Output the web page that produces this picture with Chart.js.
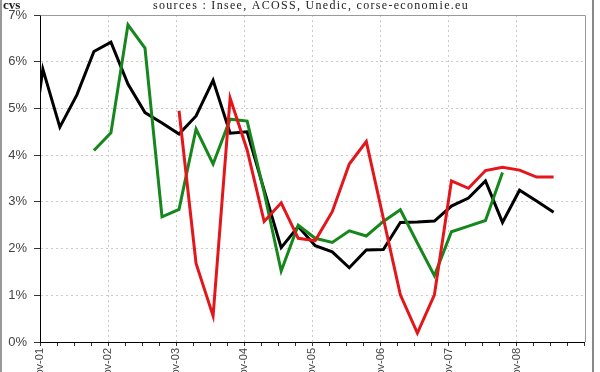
<!DOCTYPE html>
<html>
<head>
<meta charset="utf-8">
<script src="https://cdn.jsdelivr.net/npm/chart.js@4.4.0/dist/chart.umd.min.js"></script>
<style>
  html, body { margin: 0; padding: 0; background: #fff; overflow: hidden; }
</style>
</head>
<body>
<canvas id="chart" width="600" height="372"></canvas>
<script>
// labels des années (un tick par trimestre, label tous les 4)
const yearLabels = ['nov-01', 'nov-02', 'nov-03', 'nov-04', 'nov-05', 'nov-06', 'nov-07', 'nov-08']

// séries trimestrielles en %, chaque série commence à son propre trimestre
// (trimestre 0 = nov-01 ; le premier point noir est avant l'axe et coupé)
const blackStart = -1
const blackValues = [3.2, 5.84, 4.60, 5.29, 6.22, 6.42, 5.52, 4.91, 4.69, 4.45, 4.84, 5.60, 4.47, 4.50, 3.25, 2.02,
  2.47, 2.06, 1.93, 1.59, 1.97, 1.98, 2.56, 2.57, 2.59, 2.91, 3.08, 3.45, 2.56, 3.25, 3.02, 2.78]

const greenStart = 3
const greenValues = [4.10, 4.48, 6.79, 6.29, 2.68, 2.84, 4.56, 3.81, 4.77, 4.73, 3.20, 1.52, 2.50, 2.22, 2.13,
  2.38, 2.27, 2.58, 2.83, 2.12, 1.42, 2.36, 2.48, 2.60, 3.63]

const redStart = 8
const redValues = [4.95, 1.68, 0.56, 5.22, 4.11, 2.58, 2.98, 2.22, 2.17, 2.79, 3.81, 4.29, 2.65, 1.01, 0.19,
  1.01, 3.45, 3.29, 3.67, 3.74, 3.68, 3.53, 3.53]

const yTicks = [0, 1, 2, 3, 4, 5, 6, 7]

// points placés un peu après le tick du trimestre (mi-mois)
function toPoints(start, values) {
  return values.map((v, i) => ({ x: start + i + 1 / 6, y: v }))
}

const gridColor = '#cacaca'

// cadre, bord haut/droit du graphe, titre et "cvs"
const decor = {
  id: 'decor',
  afterDraw(chart) {
    const ctx = chart.ctx
    const a = chart.chartArea
    ctx.save()
    ctx.strokeStyle = '#9a9a9a'
    ctx.lineWidth = 1
    ctx.beginPath()
    ctx.moveTo(Math.round(a.left) + 0.5, Math.round(a.top) + 0.5)
    ctx.lineTo(Math.round(a.right) + 0.5, Math.round(a.top) + 0.5)
    ctx.lineTo(Math.round(a.right) + 0.5, Math.round(a.bottom))
    ctx.stroke()

    ctx.fillStyle = '#999'
    ctx.fillRect(0, 0, 2, chart.height)
    ctx.fillStyle = '#888'
    ctx.fillRect(592, 0, 2, chart.height)

    ctx.fillStyle = '#222'
    ctx.font = 'bold 13px "Liberation Serif"'
    ctx.textAlign = 'left'
    ctx.textBaseline = 'alphabetic'
    ctx.fillText('cvs', 3, 9)

    ctx.font = '12px "Liberation Serif"'
    ctx.letterSpacing = '1.3px'
    ctx.textAlign = 'center'
    ctx.fillText('sources : Insee, ACOSS, Unedic, corse-economie.eu', 311, 9)
    ctx.restore()
  }
}

const config = {
  type: 'line',
  data: {
    datasets: [
      { data: toPoints(redStart, redValues), borderColor: '#e3161b' },
      { data: toPoints(greenStart, greenValues), borderColor: '#16871c' },
      { data: toPoints(blackStart, blackValues), borderColor: '#000000' },
    ],
  },
  options: {
    responsive: false,
    animation: false,
    layout: { padding: { top: 15, right: 15, left: 0, bottom: 0 } },
    elements: {
      line: { borderWidth: 3, tension: 0, borderJoinStyle: 'miter' },
      point: { radius: 0 },
    },
    datasets: { line: { clip: 0 } },
    plugins: {
      legend: { display: false },
      tooltip: { enabled: false },
      title: { display: false },
    },
    scales: {
      x: {
        type: 'linear',
        min: 0,
        max: 32,
        afterFit(scale) { scale.height = 30 },
        grid: {
          color: (ctx) => (ctx.tick && ctx.tick.value % 4 === 0 && ctx.tick.value > 0 && ctx.tick.value < 32) ? gridColor : 'rgba(0,0,0,0)',
          tickColor: '#333',
          tickLength: 4,
        },
        border: { color: '#000', width: 1, dash: [2, 3] },
        ticks: {
          stepSize: 1,
          autoSkip: false,
          minRotation: 90,
          maxRotation: 90,
          padding: 2,
          color: '#444',
          font: { family: '"Liberation Sans", Arial', size: 11 },
          callback: (v) => (v % 4 === 0 && yearLabels[v / 4]) ? yearLabels[v / 4] : '',
        },
      },
      y: {
        min: 0,
        max: 7,
        afterFit(scale) { scale.width = 40 },
        afterBuildTicks(scale) { scale.ticks = yTicks.map(v => ({ value: v })) },
        grid: {
          color: (ctx) => (ctx.tick && ctx.tick.value > 0 && ctx.tick.value < 7) ? gridColor : 'rgba(0,0,0,0)',
          tickColor: '#333',
          tickLength: 6,
        },
        border: { color: '#000', width: 1, dash: [2, 3] },
        ticks: {
          padding: 7,
          color: '#444',
          font: { family: '"Liberation Sans", Arial', size: 13 },
          callback: (v) => v + '%',
        },
      },
    },
  },
  plugins: [decor],
}

const ctx = document.getElementById('chart')
window.myChart = new Chart(ctx, config)
</script>
</body>
</html>
